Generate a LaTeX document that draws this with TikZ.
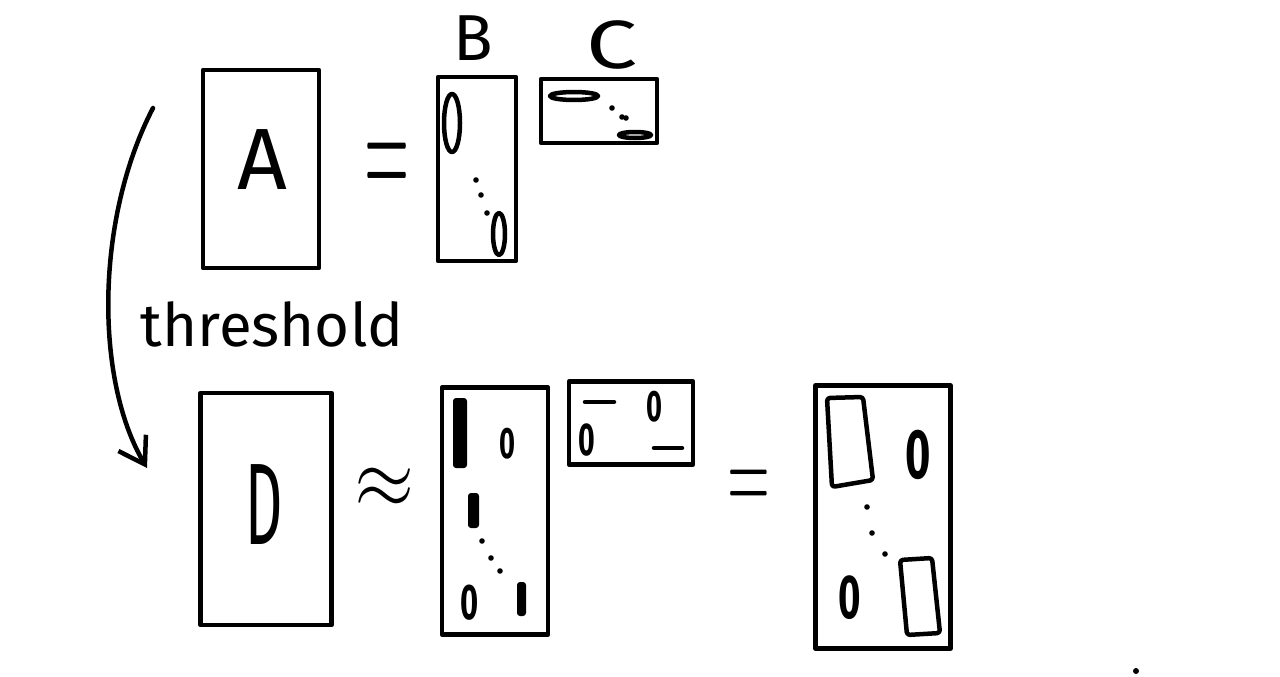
\documentclass[tikz,border=0pt]{standalone}
\usepackage{fontspec}
\setmainfont{Fira Sans}
\newfontfamily\symfont{Latin Modern Math}
\usetikzlibrary{arrows.meta}
\tikzset{
  ink/.style={line width=4.5pt, line cap=round, line join=round},
  matbox/.style={draw, ink, rectangle, inner sep=0pt},
  letter/.style={font=\fontsize{#1}{#1}\selectfont, inner sep=0pt},
  sym/.style={font=\symfont\fontsize{#1}{#1}\selectfont, inner sep=0pt},
  blob/.style={fill, rounded corners=3pt},
}
\newcommand{\zr}{\scalebox{0.62}[1]{\bfseries 0}}
\begin{document}
\begin{tikzpicture}[x=1pt, y=-1pt]
    \useasboundingbox (0,0) rectangle (1280,677);

    % A = B C
    \node[matbox, minimum width=116pt, minimum height=198pt] (A) at (261,169) {};
    \node[letter=87pt] (labA) at (262,160) {A};
    \node[sym=58pt] (eqTop) at (387,171) {\scalebox{1}[2.6]{=}};
    \node[matbox, minimum width=78pt, minimum height=184pt] (B) at (477,169) {};
    \node[letter=65pt] (labB) at (473,38) {B};
    \draw[ink] (452,123) ellipse [x radius=8pt, y radius=29pt];
    \draw[ink] (499,234) ellipse [x radius=6pt, y radius=21pt];
    \foreach \p in {(476,180),(481,195),(487,213)}
      \fill \p circle (2.8pt);
    \node[matbox, minimum width=116pt, minimum height=64pt] (C) at (599,111) {};
    \node[letter=65pt] (labC) at (612,45) {\scalebox{1.4}[1.05]{C}};
    \draw[ink] (574,96) ellipse [x radius=24pt, y radius=4pt];
    \draw[ink] (635,135) ellipse [x radius=16pt, y radius=3pt];
    \foreach \p in {(612,108),(622,117),(626,118)}
      \fill \p circle (2.8pt);

    % threshold
    \coordinate (thrFrom) at (153,108);
    \coordinate (thrTo) at (147,468);
    \draw[ink, -{Straight Barb[length=25pt, width=32pt]}]
      (thrFrom) .. controls (95,220) and (95,380) .. (thrTo);
    \node[letter=60pt, anchor=base] (thr) at (272,346) {threshold};

    % D ~ B' C' = E
    \node[matbox, minimum width=131pt, minimum height=232pt] (D) at (266,509) {};
    \node[letter=116pt] (labD) at (264,505) {\scalebox{0.5}[1]{D}};
    \node[sym=82pt] (approx) at (385,488) {\scalebox{0.95}[1.05]{≈}};
    \node[matbox, minimum width=106pt, minimum height=247pt] (Bt) at (495,511) {};
    \fill[blob] (453,398) rectangle (467,468);
    \fill[blob] (468,493) rectangle (479,528);
    \fill[blob] (517,582) rectangle (526,616);
    \foreach \p in {(482,541),(491,558),(500,571)}
      \fill \p circle (2.8pt);
    \node[letter=44pt] (zB1) at (507,444) {\zr};
    \node[letter=50pt] (zB2) at (470,603) {\zr};
    \node[matbox, minimum width=124pt, minimum height=83pt] (Ct) at (631,423) {};
    \draw[ink] (585,402) -- (614,402);
    \draw[ink] (654,448) -- (682,448);
    \node[letter=44pt] (zC1) at (654,407) {\zr};
    \node[letter=46pt] (zC2) at (587,440) {\zr};
    \node[sym=55pt] (eqBot) at (749,490) {\scalebox{1}[2]{=}};
    \node[matbox, minimum width=135pt, minimum height=263pt] (E) at (883,517) {};
    \draw[ink, rounded corners=3pt] (827,398) -- (863,397) -- (873,480) -- (832,487) -- cycle;
    \draw[ink, rounded corners=3pt] (900,560) -- (932,558) -- (940,633) -- (907,635) -- cycle;
    \node[letter=70pt] (zE1) at (918,455) {\zr};
    \node[letter=62pt] (zE2) at (850,598) {\zr};
    \foreach \p in {(867,507),(872,533),(885,554)}
      \fill \p circle (2.8pt);

    \fill (1136,671) circle (3pt);
\end{tikzpicture}
\end{document}
